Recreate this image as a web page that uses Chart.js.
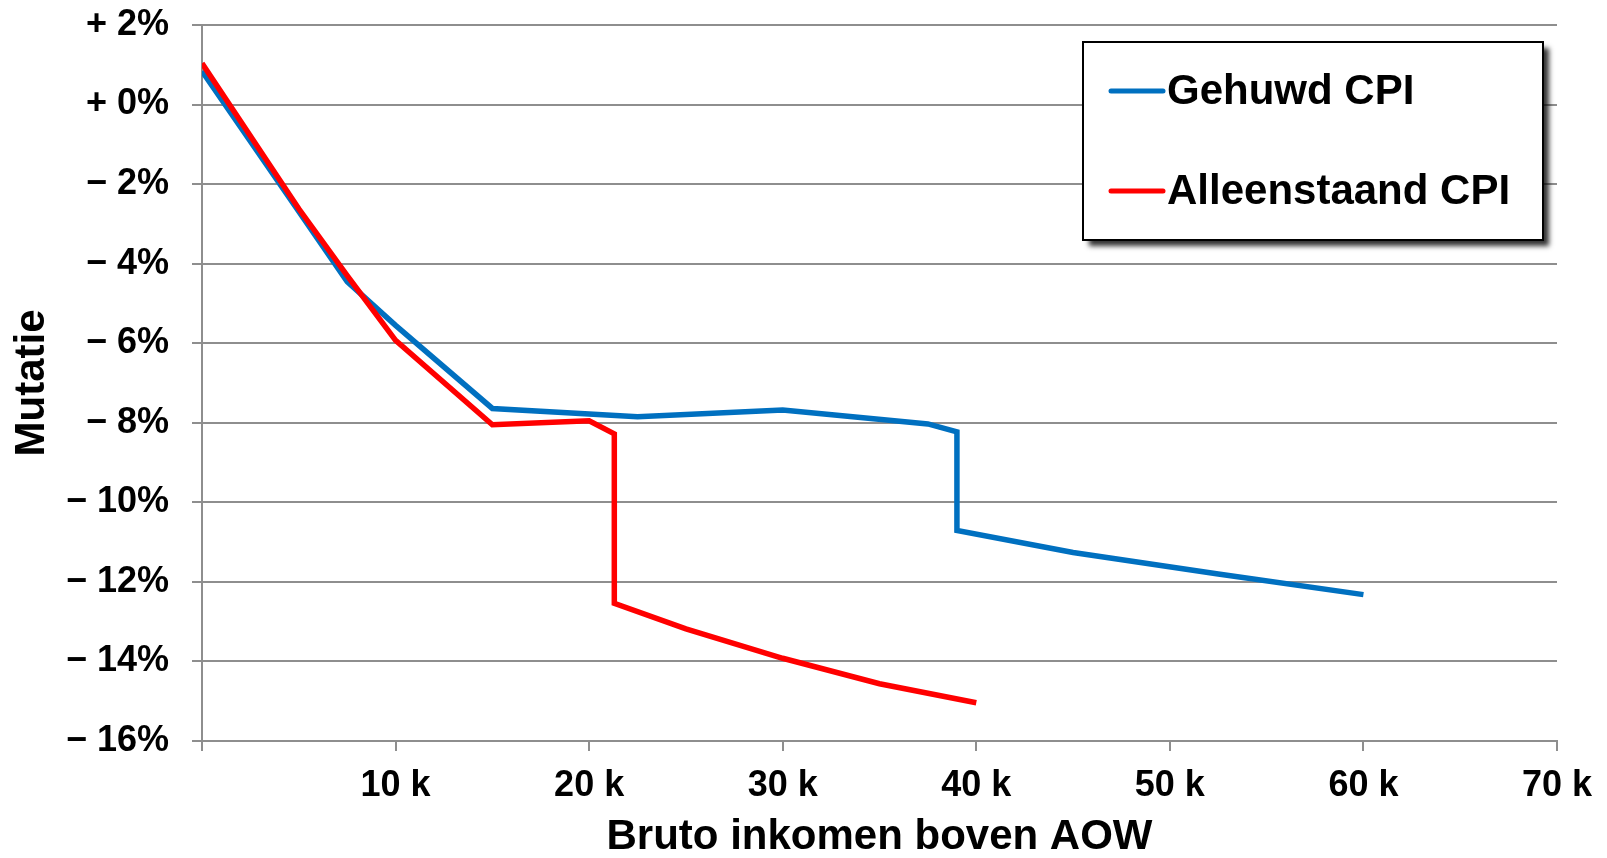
<!DOCTYPE html>
<html>
<head>
<meta charset="utf-8">
<script src="https://cdn.jsdelivr.net/npm/chart.js@4"></script>
<style>
  html, body { margin: 0; padding: 0; background: #fff; }
  #wrap { width: 1607px; height: 858px; }
</style>
</head>
<body>
<div id="wrap"><canvas id="mutatieChart" width="1607" height="858"></canvas></div>
<script>
// bruto inkomen boven AOW (x 1000 euro) en mutatie in %
const inkomenGehuwd = [0, 5, 7.5, 10, 15, 22.5, 30, 37.5, 39, 39, 45, 52.5, 60];
const mutatieGehuwd = [0.84, -2.69, -4.45, -5.55, -7.64, -7.85, -7.68, -8.03, -8.23, -10.71, -11.26, -11.8, -12.32];
const inkomenAlleen = [0, 5, 7.5, 10, 15, 20, 21.3, 21.3, 25, 30, 35, 40];
const mutatieAlleen = [1.04, -2.62, -4.3, -5.93, -8.05, -7.95, -8.28, -12.54, -13.18, -13.92, -14.56, -15.04];
const labels = ["Gehuwd CPI", "Alleenstaand CPI"];
const kleuren = ["#0070C0", "#FF0000"];

const FONT = '"Liberation Sans", Arial, sans-serif';
const GRIJS = "#8e8e8e";

function punten(xs, ys) {
  return xs.map((x, i) => ({ x: x, y: ys[i] }));
}

// legenda met schaduw rechtsboven in het plotgebied
const legendaBox = {
  id: "legendaBox",
  afterDraw(chart) {
    const ctx = chart.ctx;
    const x = 1083, y = 42, w = 460, h = 198;
    ctx.save();
    ctx.shadowColor = "rgba(0,0,0,0.8)";
    ctx.shadowBlur = 5;
    ctx.shadowOffsetX = 6;
    ctx.shadowOffsetY = 6;
    ctx.fillStyle = "#fff";
    ctx.fillRect(x, y, w, h);
    ctx.restore();

    ctx.save();
    ctx.strokeStyle = "#000";
    ctx.lineWidth = 2;
    ctx.strokeRect(x, y, w, h);
    ctx.font = "bold 42px " + FONT;
    ctx.textBaseline = "middle";
    ctx.fillStyle = "#000";
    chart.data.datasets.forEach((ds, i) => {
      const ly = 91 + i * 100;
      ctx.strokeStyle = ds.borderColor;
      ctx.lineWidth = 5;
      ctx.lineCap = "round";
      ctx.beginPath();
      ctx.moveTo(1111, ly);
      ctx.lineTo(1163, ly);
      ctx.stroke();
      ctx.fillText(ds.label, 1167, ly + 1);
    });
    ctx.restore();
  }
};

const ctx = document.getElementById("mutatieChart").getContext("2d");

new Chart(ctx, {
  type: "line",
  data: {
    datasets: [
      {
        label: labels[0],
        data: punten(inkomenGehuwd, mutatieGehuwd),
        borderColor: kleuren[0],
        borderWidth: 5.5,
        order: 2,
      },
      {
        label: labels[1],
        data: punten(inkomenAlleen, mutatieAlleen),
        borderColor: kleuren[1],
        borderWidth: 5.5,
        order: 1,
      },
    ],
  },
  options: {
    responsive: false,
    animation: false,
    layout: { padding: { top: 25, right: 50, left: 0, bottom: 0 } },
    elements: {
      point: { radius: 0, hoverRadius: 0 },
      line: { tension: 0, borderJoinStyle: "miter" },
    },
    plugins: {
      legend: { display: false },
      tooltip: { enabled: false },
    },
    scales: {
      x: {
        type: "linear",
        min: 0,
        max: 70,
        afterFit(scale) { scale.height = 117; },
        afterBuildTicks(scale) {
          scale.ticks = [0, 10, 20, 30, 40, 50, 60, 70].map(v => ({ value: v }));
        },
        border: { display: true, color: GRIJS, width: 2 },
        grid: { drawOnChartArea: false, drawTicks: true, tickLength: 10, color: GRIJS, lineWidth: 2 },
        ticks: {
          color: "#000",
          padding: 13,
          maxRotation: 0,
          font: { family: FONT, size: 36, weight: "bold" },
          callback: v => (v === 0 ? "" : v + " k"),
        },
        title: {
          display: true,
          text: "Bruto inkomen boven AOW",
          color: "#000",
          padding: { top: 0, bottom: 0 },
          font: { family: FONT, size: 42, weight: "bold", lineHeight: 1 },
        },
      },
      y: {
        min: -16,
        max: 2,
        afterFit(scale) {
          scale.width = 202;
          scale.paddingTop = 0;
          scale.paddingBottom = 0;
        },
        border: { display: true, color: GRIJS, width: 2 },
        grid: { color: GRIJS, lineWidth: 2, tickLength: 10 },
        ticks: {
          stepSize: 2,
          color: "#000",
          padding: 23,
          font: { family: FONT, size: 36, weight: "bold" },
          callback: v => (v >= 0 ? "+ " : "\u2212 ") + Math.abs(v) + "%",
        },
        title: {
          display: true,
          text: "Mutatie",
          color: "#000",
          padding: { top: 11, bottom: 0 },
          font: { family: FONT, size: 42, weight: "bold", lineHeight: 1 },
        },
      },
    },
  },
  plugins: [legendaBox],
});
</script>
</body>
</html>
